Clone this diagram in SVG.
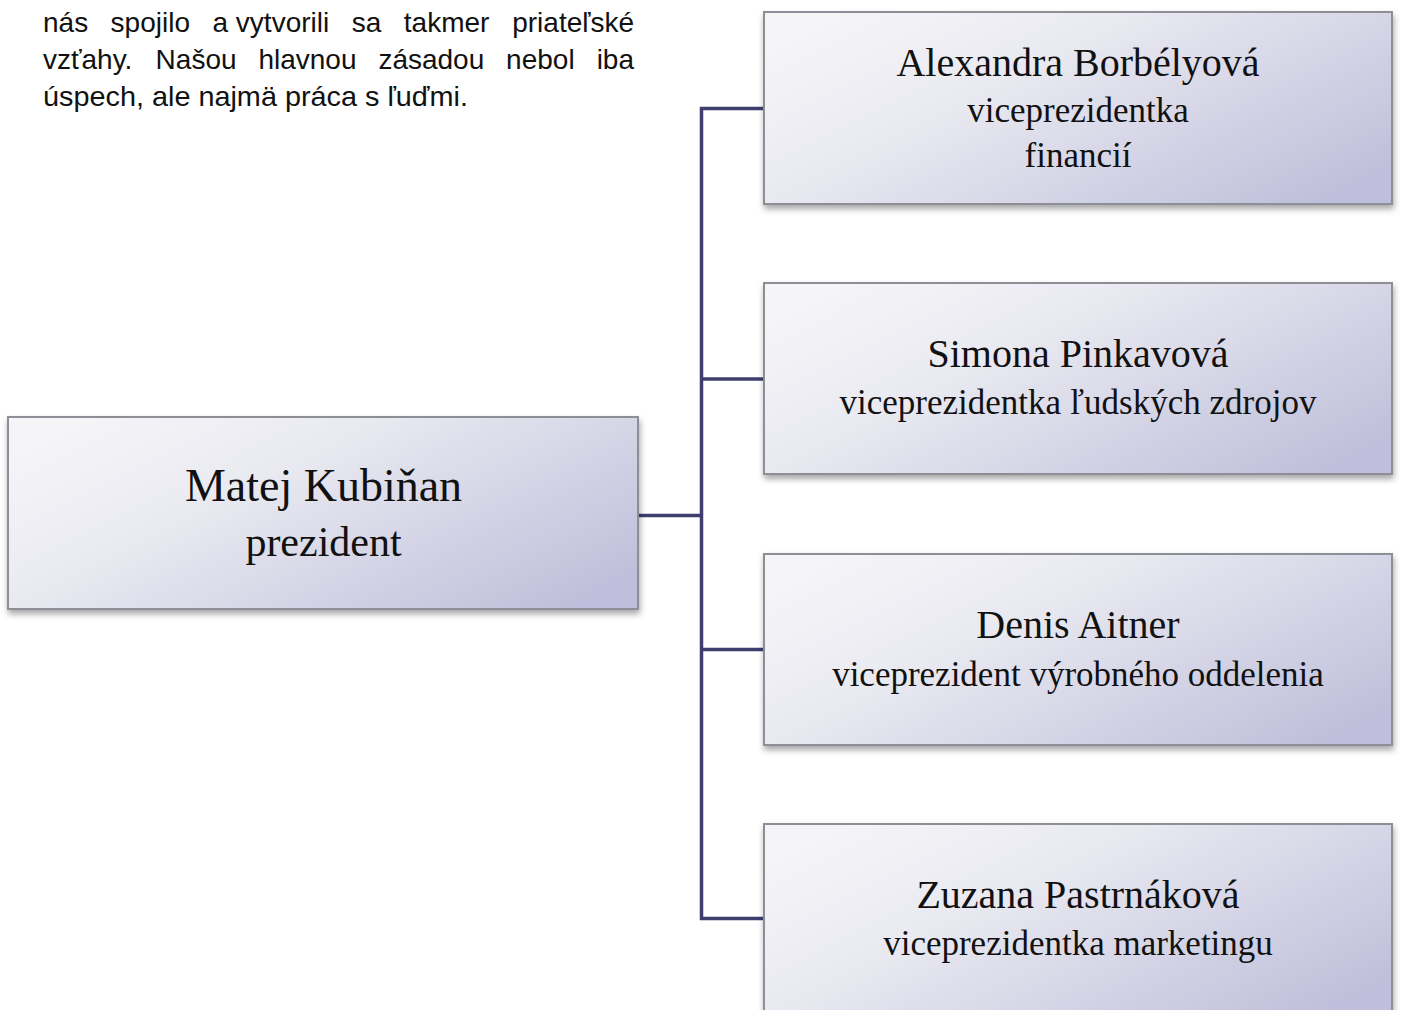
<svg xmlns="http://www.w3.org/2000/svg" width="1401" height="1010" viewBox="0 0 1401 1010">
<defs>
<linearGradient id="boxGrad" x1="0" y1="0.2" x2="1" y2="0.8">
<stop offset="0" stop-color="#f5f5f8"/>
<stop offset="0.35" stop-color="#e9e9f1"/>
<stop offset="1" stop-color="#bfbfdb"/>
</linearGradient>
<filter id="shadow" x="-5%" y="-10%" width="110%" height="130%">
<feDropShadow dx="1" dy="4" stdDeviation="3" flood-color="#000" flood-opacity="0.35"/>
</filter>
<style>
.box{fill:url(#boxGrad);stroke:#8e8e96;stroke-width:2;filter:url(#shadow);}
.name{font-family:"Liberation Serif","Times New Roman",serif;font-size:40px;fill:#111;text-anchor:middle;}
.role{font-family:"Liberation Serif","Times New Roman",serif;font-size:35px;fill:#111;text-anchor:middle;}
.para{font-family:"Liberation Sans",Arial,sans-serif;font-size:28px;fill:#111;}
.conn{fill:none;stroke:#3f3e6f;stroke-width:3.5;stroke-linejoin:miter;}
</style>
</defs>
<rect width="1401" height="1010" fill="#ffffff"/>
<g id="paragraph">
<text class="para" y="32"><tspan x="43">nás</tspan><tspan x="110.6">spojilo</tspan><tspan x="212.5">a vytvorili</tspan><tspan x="351.7">sa</tspan><tspan x="403.8">takmer</tspan><tspan x="634" text-anchor="end">priateľské</tspan></text>
<text class="para" y="69"><tspan x="43">vzťahy.</tspan><tspan x="155.6">Našou</tspan><tspan x="258.4">hlavnou</tspan><tspan x="378.4">zásadou</tspan><tspan x="506.1">nebol</tspan><tspan x="634" text-anchor="end">iba</tspan></text>
<text class="para" x="43" y="106" textLength="425" lengthAdjust="spacingAndGlyphs">úspech, ale najmä práca s ľuďmi.</text>
</g>
<g id="connectors">
<path class="conn" d="M638 515.5 H701.5"/>
<path class="conn" d="M764 108.5 H701.5 V918.5 H764"/>
<path class="conn" d="M701.5 379 H764"/>
<path class="conn" d="M701.5 649.5 H764"/>
</g>
<g id="node-president">
<rect class="box" x="8" y="417" width="630" height="192"/>
<text class="name" x="323.5" y="501" style="font-size:46px">Matej Kubiňan</text>
<text class="role" x="323.5" y="556" style="font-size:42px">prezident</text>
</g>
<g id="node-borbelyova">
<rect class="box" x="764" y="12" width="628" height="192"/>
<text class="name" x="1078" y="76">Alexandra Borbélyová</text>
<text class="role" x="1078" y="122">viceprezidentka</text>
<text class="role" x="1078" y="167">financií</text>
</g>
<g id="node-pinkavova">
<rect class="box" x="764" y="283" width="628" height="191"/>
<text class="name" x="1078" y="367">Simona Pinkavová</text>
<text class="role" x="1078" y="414">viceprezidentka ľudských zdrojov</text>
</g>
<g id="node-aitner">
<rect class="box" x="764" y="554" width="628" height="191"/>
<text class="name" x="1078" y="638">Denis Aitner</text>
<text class="role" x="1078" y="686">viceprezident výrobného oddelenia</text>
</g>
<g id="node-pastrnakova">
<rect class="box" x="764" y="824" width="628" height="192"/>
<text class="name" x="1078" y="908">Zuzana Pastrnáková</text>
<text class="role" x="1078" y="955">viceprezidentka marketingu</text>
</g>
</svg>
